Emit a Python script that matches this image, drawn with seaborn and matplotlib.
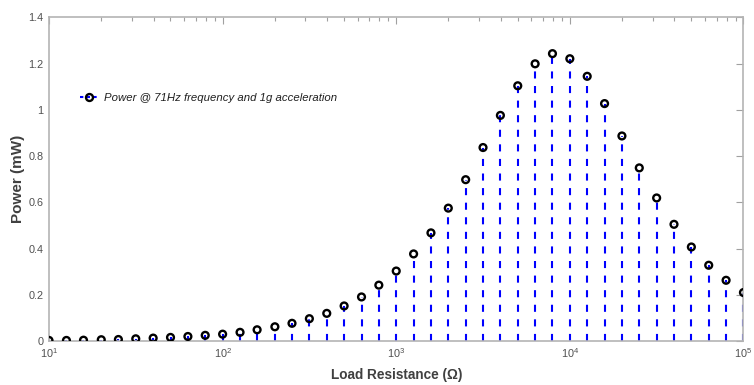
import numpy as np
import matplotlib
matplotlib.use("Agg")
import matplotlib.pyplot as plt
from matplotlib.lines import Line2D
from matplotlib.ticker import LogLocator, FixedLocator, NullFormatter
import seaborn as sns

# ---- data ----
resistance = [10, 12.6, 15.8, 20, 25.1, 31.6, 39.8, 50.1, 63.1, 79.4,
              100, 126, 158, 200, 251, 316, 398, 501, 631, 794,
              1000, 1259, 1585, 1995, 2512, 3162, 3981, 5012, 6310, 7943,
              10000, 12589, 15849, 19953, 25119, 31623, 39811, 50119, 63096, 79433,
              100000]
power = [0.003, 0.003, 0.004, 0.006, 0.007, 0.010, 0.013, 0.016, 0.020, 0.025,
         0.030, 0.038, 0.049, 0.062, 0.077, 0.097, 0.120, 0.152, 0.191, 0.242,
         0.303, 0.377, 0.468, 0.575, 0.698, 0.837, 0.976, 1.104, 1.199, 1.243,
         1.221, 1.145, 1.027, 0.887, 0.749, 0.619, 0.505, 0.407, 0.328, 0.263,
         0.210]
y_ticks = [0, 0.2, 0.4, 0.6, 0.8, 1.0, 1.2, 1.4]
y_tick_labels = ["0", "0.2", "0.4", "0.6", "0.8", "1", "1.2", "1.4"]
x_ticks = [10, 100, 1000, 10000, 100000]
x_tick_labels = ["$10^{1}$", "$10^{2}$", "$10^{3}$", "$10^{4}$", "$10^{5}$"]
legend_label = "Power @ 71Hz frequency and 1g acceleration"
x_label = "Load Resistance (Ω)"
y_label = "Power (mW)"

sns.set_theme(style="white")
plt.rcParams["font.family"] = ["Liberation Sans", "DejaVu Sans"]
plt.rcParams["mathtext.default"] = "regular"

fig = plt.figure(figsize=(7.54, 3.85), dpi=100)
ax = fig.add_axes([0.065, 0.114, 0.921, 0.841])

stem_color = "#0000ff"
ax.vlines(resistance, 0, power, colors=stem_color, linestyles=(0, (3.4, 3.6)),
          linewidth=1.5, zorder=2)
sns.scatterplot(x=resistance, y=power, ax=ax, marker="o", s=24,
                color="black", edgecolor="black", facecolor="none",
                linewidth=1.7, zorder=3, legend=False)

ax.set_xscale("log")
ax.set_xlim(10, 100000)
ax.set_ylim(0, 1.4)

ax.xaxis.set_major_locator(FixedLocator(x_ticks))
ax.set_xticks(x_ticks)
ax.set_xticklabels(x_tick_labels)
ax.xaxis.set_minor_locator(LogLocator(base=10, subs=np.arange(2, 10), numticks=20))
ax.xaxis.set_minor_formatter(NullFormatter())
ax.set_yticks(y_ticks)
ax.set_yticklabels(y_tick_labels)

spine_col = "#b4b4b4"
for s in ax.spines.values():
    s.set_visible(True)
    s.set_color(spine_col)
    s.set_linewidth(1.2)

ax.tick_params(which="both", direction="in", top=True, right=True,
               color="#a0a0a0", labelcolor="#505050", labelsize=7.8, width=0.8)
ax.tick_params(which="major", length=5, pad=4)
ax.tick_params(which="minor", length=3)

ax.set_xlabel(x_label, fontsize=9.8, fontweight="bold", color="#404040")
ax.xaxis.set_label_coords(0.5, -0.083)
ax.set_ylabel(y_label, fontsize=11, fontweight="bold", color="#404040")
ax.yaxis.set_label_coords(-0.034, 0.5)

handle = Line2D([], [], color=stem_color, linestyle=(0, (1.6, 1.6)), linewidth=1.5,
                marker="o", markersize=5, markeredgecolor="black",
                markerfacecolor="none", markeredgewidth=1.7, markevery=[1])
handle.set_data([0, 1], [0, 0])
leg = ax.legend([handle], [legend_label], loc="center left",
                bbox_to_anchor=(0.03, 0.751), frameon=False, handlelength=1.6,
                handletextpad=0.5, prop={"size": 8.2, "style": "italic"},
                labelcolor="#202020")

fig.savefig("out.png", dpi=100)
